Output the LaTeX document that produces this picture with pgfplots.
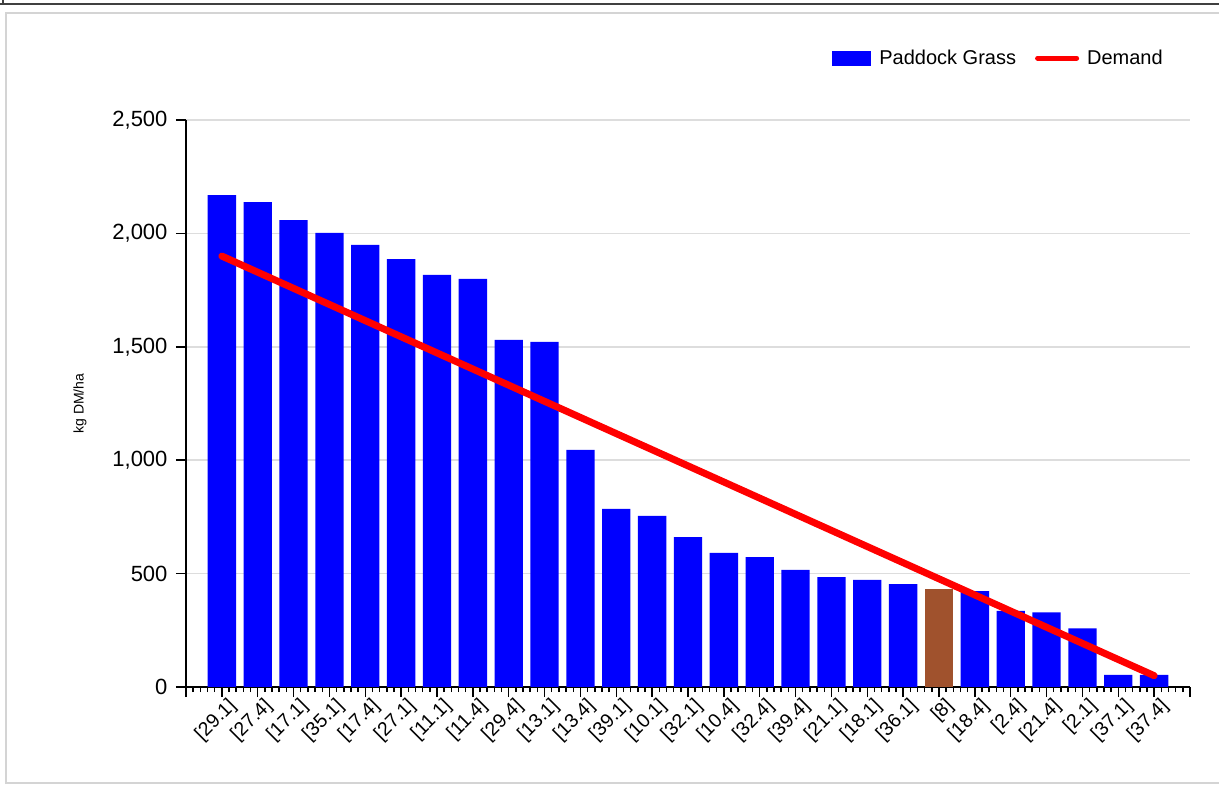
\documentclass[border=0pt]{standalone}
\usepackage{fontspec}
\setmainfont{Liberation Sans}
\usepackage{pgfplots}
\usepackage{pgfplotstable}
\pgfplotsset{compat=1.18}
\definecolor{barblue}{RGB}{0,0,255}
\definecolor{barbrown}{RGB}{160,82,45}
\definecolor{gridgray}{RGB}{221,221,221}
\definecolor{framedark}{RGB}{64,64,64}
\definecolor{framelight}{RGB}{212,212,212}

\pgfplotstableread{
idx val
0 2169
1 2138
2 2059
3 2002
4 1949
5 1887
6 1817
7 1799
8 1530
9 1522
10 1045
11 785
12 754
13 661
14 591
15 573
16 516
17 485
18 472
19 454
21 423
22 336
23 329
24 259
25 53
26 53
}\grass

\pgfplotstableread{
idx val
20 431
}\brown

\begin{document}
\begin{tikzpicture}[x=1pt,y=1pt]
\fill[white] (0,0) rectangle (1219,785);
\draw[framedark, line width=2.5pt] (0,781) -- (1219,781);
\draw[framedark, line width=2pt] (3,780) -- (3,785);
\draw[framelight, line width=2pt] (5,771.5) -- (1219,771.5);
\draw[framelight, line width=2pt] (5.5,1) -- (5.5,772);
\draw[framelight, line width=2pt] (5,2) -- (1219,2);
\begin{axis}[
  at={(186pt,98pt)}, anchor=south west,
  scale only axis, width=1004pt, height=567pt,
  xmin=-1, xmax=27, ymin=0, ymax=2500,
  axis lines=left,
  axis line style={-, line width=1.8pt, black},
  xtick={-1,0,...,27},
  xticklabels={{},{[29.1]},{[27.4]},{[17.1]},{[35.1]},{[17.4]},{[27.1]},{[11.1]},{[11.4]},{[29.4]},{[13.1]},{[13.4]},{[39.1]},{[10.1]},{[32.1]},{[10.4]},{[32.4]},{[39.4]},{[21.1]},{[18.1]},{[36.1]},{[8]},{[18.4]},{[2.4]},{[21.4]},{[2.1]},{[37.1]},{[37.4]},{}},
  minor x tick num=4,
  ytick={0,500,...,2500},
  tick align=outside,
  major tick length=10pt, minor tick length=5pt,
  tick style={black, line width=1.5pt},
  ymajorgrids, major grid style={gridgray, line width=1.5pt},
  x tick label style={font=\fontsize{19.5}{22}\selectfont, rotate=45, anchor=north east, inner sep=1pt, xshift=5pt, yshift=-2pt},
  y tick label style={font=\fontsize{22}{26}\selectfont, xshift=-5pt},
  /pgf/number format/.cd, 1000 sep={,}, assume math mode=true,
  /pgfplots/.cd,
  ylabel={kg DM/ha},
  ylabel style={font=\fontsize{14}{17}\selectfont, at={(axis description cs:-0.1056,0.5)}, anchor=center},
  legend columns=2,
  legend style={draw=none, fill=none, at={(axis description cs:0.978,1.109)}, anchor=east,
    font=\fontsize{20}{24}\selectfont, column sep=6pt,
    /tikz/column 2/.style={column sep=17pt}},
]
\addplot[ybar, bar width=0.79, bar shift=0pt, fill=barblue, draw=none,
  legend image code/.code={\fill[barblue] (0pt,-7.5pt) rectangle (39pt,7.5pt);}]
  table[x=idx,y=val]{\grass};
\addlegendentry{Paddock Grass}
\addplot[ybar, bar width=0.79, bar shift=0pt, fill=barbrown, draw=none, forget plot]
  table[x=idx,y=val]{\brown};
\addplot[red, line width=7pt, line cap=round, mark=none,
  legend image code/.code={\draw[red, line width=5pt] (0pt,0pt) -- (39pt,0pt);}]
  coordinates {(0,1900) (26,50)};
\addlegendentry{Demand}
\end{axis}
\pgfresetboundingbox
\useasboundingbox (0,0) rectangle (1219,785);
\end{tikzpicture}
\end{document}
